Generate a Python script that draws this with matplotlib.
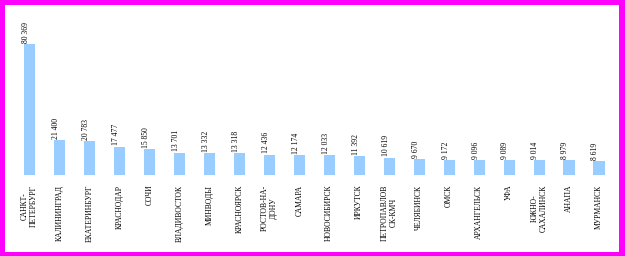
import matplotlib.pyplot as plt

# cities and passenger numbers
cities = ["САНКТ-\nПЕТЕРБУРГ", "КАЛИНИНГРАД", "ЕКАТЕРИНБУРГ", "КРАСНОДАР", "СОЧИ",
          "ВЛАДИВОСТОК", "МИНВОДЫ", "КРАСНОЯРСК", "РОСТОВ-НА-\nДОНУ", "САМАРА",
          "НОВОСИБИРСК", "ИРКУТСК", "ПЕТРОПАВЛОВ\nСК-КМЧ", "ЧЕЛЯБИНСК", "ОМСК",
          "АРХАНГЕЛЬСК", "УФА", "ЮЖНО-\nСАХАЛИНСК", "АНАПА", "МУРМАНСК"]
values = [80369, 21400, 20783, 17477, 15850,
          13701, 13332, 13318, 12436, 12174,
          12033, 11392, 10619, 9670, 9172,
          9096, 9089, 9014, 8979, 8619]

W, H = 625, 256
fig = plt.figure(figsize=(W / 100, H / 100), dpi=100)
fig.patch.set_facecolor("#FF00FF")

# white inner panel inside the magenta frame
fig.add_artist(plt.Rectangle((5 / W, 4 / H), 614 / W, 247 / H,
                             transform=fig.transFigure, facecolor="white",
                             edgecolor="none", zorder=0))

ax = fig.add_axes([14.5 / W, (H - 175) / H, 599.5 / W, 160 / H])
ax.patch.set_alpha(0)
x = list(range(len(cities)))
ax.bar(x, values, width=0.37, color="#99CCFF")
ax.set_xlim(-0.5, len(cities) - 0.5)
ax.set_ylim(0, 80369 * 160 / 131)

for xi, v in zip(x, values):
    txt = f"{v:,}".replace(",", " ")
    ax.annotate(txt, (xi - 0.12, v), xytext=(0, 1), textcoords="offset points",
                rotation=90, ha="center", va="bottom", fontsize=5.5,
                family="Liberation Serif")

ax.set_xticks(x)
ax.set_xticklabels(cities, rotation=90, fontsize=5.5, family="Liberation Serif",
                   multialignment="center")
ax.tick_params(axis="x", length=0, pad=7)
ax.set_yticks([])
for s in ax.spines.values():
    s.set_visible(False)

plt.savefig("out.png", dpi=100, facecolor=fig.get_facecolor())
